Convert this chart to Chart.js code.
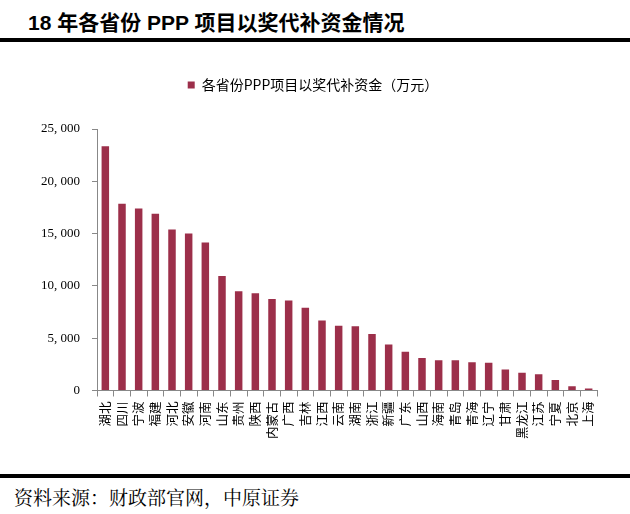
<!DOCTYPE html>
<html>
<head>
<meta charset="utf-8">
<script src="https://cdn.jsdelivr.net/npm/chart.js@4"></script>
<style>
  body { margin: 0; width: 630px; height: 514px; background: #fff; position: relative; overflow: hidden; font-family: "Noto Sans CJK SC", sans-serif; }
  #titulo { position: absolute; left: 28px; top: 6px; font-size: 21px; font-weight: bold; color: #000; font-family: "Liberation Sans", "Noto Sans CJK SC", sans-serif; white-space: nowrap; }
  .linea { position: absolute; left: 0; width: 630px; height: 4px; background: #000; }
  #fuente { position: absolute; left: 14px; top: 483px; font-size: 19px; color: #000; font-family: "Noto Serif CJK SC", "Noto Sans CJK SC", serif; white-space: nowrap; }
  #grafico { position: absolute; left: 0; top: 45px; width: 630px; height: 425px; }
</style>
</head>
<body>
<div id="titulo">18 年各省份 PPP 项目以奖代补资金情况</div>
<div class="linea" style="top:38px"></div>
<div id="grafico"><canvas id="chartPPP"></canvas></div>
<div class="linea" style="top:474px"></div>
<div id="fuente">资料来源：财政部官网，中原证券</div>
<script>
const provincias = ["湖北", "四川", "宁波", "福建", "河北", "安徽", "河南", "山东", "贵州", "陕西",
  "内蒙古", "广西", "吉林", "江西", "云南", "湖南", "浙江", "新疆", "广东", "山西",
  "海南", "青岛", "青海", "辽宁", "甘肃", "黑龙江", "江苏", "宁夏", "北京", "上海"];
const fondos = [23350, 17850, 17400, 16900, 15400, 15000, 14150, 10950, 9500, 9300,
  8750, 8600, 7900, 6700, 6200, 6150, 5400, 4400, 3700, 3100,
  2900, 2900, 2700, 2650, 2000, 1700, 1550, 1000, 400, 200];
const nombreSerie = "各省份PPP项目以奖代补资金（万元）";
const marcasY = [0, 5000, 10000, 15000, 20000, 25000];

function formatoMiles(valor) {
  return String(valor).replace(/\B(?=(\d{3})+(?!\d))/g, ", ");
}

// separa la leyenda del area del grafico
const espacioLeyenda = {
  id: "espacioLeyenda",
  beforeInit(chart) {
    const fitOriginal = chart.legend.fit;
    chart.legend.fit = function () {
      fitOriginal.bind(chart.legend)();
      this.height += 27;
    };
  }
};

const canvas = document.getElementById("chartPPP");
window.chartPPPRef = new Chart(canvas, {
  type: "bar",
  data: {
    labels: provincias,
    datasets: [{
      label: nombreSerie,
      data: fondos,
      backgroundColor: "#9c2f4a",
      barPercentage: 0.45,
      categoryPercentage: 1
    }]
  },
  options: {
    responsive: true,
    maintainAspectRatio: false,
    animation: false,
    layout: { padding: { top: 23, left: 29, right: 33, bottom: 26 } },
    plugins: {
      legend: {
        position: "top",
        labels: {
          boxWidth: 7,
          boxHeight: 7,
          color: "#000",
          font: { family: "Noto Sans CJK SC", size: 14 }
        }
      },
      tooltip: { enabled: false }
    },
    scales: {
      x: {
        grid: { display: true, drawOnChartArea: false, offset: true, tickLength: 6, color: "#888" },
        border: { color: "#888" },
        ticks: {
          minRotation: 90,
          maxRotation: 90,
          autoSkip: false,
          padding: 5,
          color: "#000",
          font: { family: "Noto Sans CJK SC", size: 12.5 }
        }
      },
      y: {
        min: 0,
        max: 25000,
        afterBuildTicks(scale) {
          scale.ticks = marcasY.map((v) => ({ value: v }));
        },
        grid: { display: true, drawOnChartArea: false, tickLength: 5, color: "#888" },
        border: { color: "#888" },
        ticks: {
          padding: 12,
          color: "#000",
          font: { family: "Liberation Serif", size: 13 },
          callback: (valor) => formatoMiles(valor)
        }
      }
    }
  },
  plugins: [espacioLeyenda]
});
</script>
</body>
</html>
